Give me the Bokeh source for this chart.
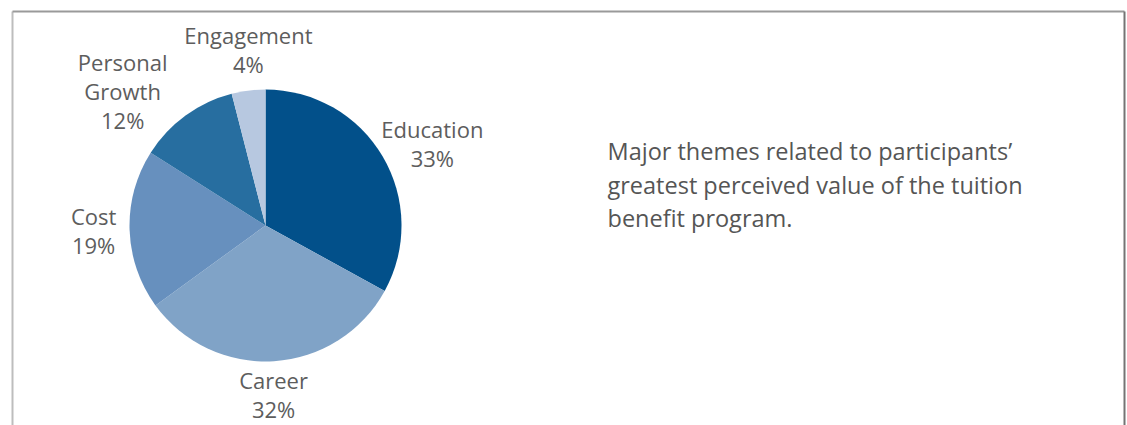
import math
from bokeh.plotting import figure
from bokeh.models import ColumnDataSource, Range1d
from bokeh.core.properties import value
from bokeh.embed import file_html
from bokeh.resources import INLINE

# ---- data ----
categories = ["Education", "Career", "Cost", "Personal\nGrowth", "Engagement"]
values = [33, 32, 19, 12, 4]
colors = ["#02508a", "#80a3c7", "#6790be", "#276ea0", "#b7c8e0"]
description = [
    "Major themes related to participants\u2019",
    "greatest perceived value of the tuition",
    "benefit program.",
]

# ---- layout (pixels) ----
W, H = 1127, 425
cx, cy_px, radius = 265, 225, 136
cy = H - cy_px
label_dist = [185, 171, 172, 195, 175]
label_shift_deg = [5, 0.9, -0.4, -11.1, 1.6]
label_raise = 2
line_gap = 29
FONT = "Open Sans"
label_color = "#5d5d5d"
text_color = "#555555"

p = figure(width=W, height=H, x_range=Range1d(0, W), y_range=Range1d(0, H),
           x_axis_type=None, y_axis_type=None, toolbar_location=None,
           output_backend="svg", min_border=0)
p.outline_line_color = None
p.grid.visible = False
p.background_fill_color = "white"
p.border_fill_color = "white"

# frame
p.segment(x0=[12], y0=[H - 11], x1=[12], y1=[0], line_color="#bdbdbd", line_width=2)
p.segment(x0=[12], y0=[H - 11], x1=[1124], y1=[H - 11], line_color="#9a9a9a", line_width=2)
p.segment(x0=[1124], y0=[H - 11], x1=[1124], y1=[0], line_color="#747474", line_width=2)

# wedges (clockwise from top)
total = sum(values)
starts, ends, lx, ly, ltxt = [], [], [], [], []
cum = 0
for i, v in enumerate(values):
    a0 = math.pi / 2 - 2 * math.pi * (cum + v) / total
    a1 = math.pi / 2 - 2 * math.pi * cum / total
    starts.append(a0)
    ends.append(a1)
    mid_deg = 360 * (cum + v / 2) / total + label_shift_deg[i]
    th = math.radians(mid_deg)
    bx = cx + label_dist[i] * math.sin(th)
    by = cy + label_dist[i] * math.cos(th) + label_raise
    lines = categories[i].split("\n") + [f"{v}%"]
    n = len(lines)
    for k, t in enumerate(lines):
        lx.append(bx)
        ly.append(by - (k - (n - 1) / 2) * line_gap)
        ltxt.append(t)
    cum += v

src = ColumnDataSource(dict(start=starts, end=ends, color=colors,
                            x=[cx] * len(values), y=[cy] * len(values)))
p.wedge(x="x", y="y", radius=radius, start_angle="start", end_angle="end",
        fill_color="color", line_color=None, source=src)

p.text(x=lx, y=ly, text=ltxt, text_font=value(FONT), text_font_size="22px",
       text_color=label_color, text_align="center", text_baseline="middle")

# description
p.text(x=[607] * 3, y=[H - 150, H - 184, H - 217], text=description,
       text_font=value(FONT), text_font_size="23.5px", text_color=text_color,
       text_align="left", text_baseline="middle")

open("out.html", "w").write(file_html(p, INLINE))
